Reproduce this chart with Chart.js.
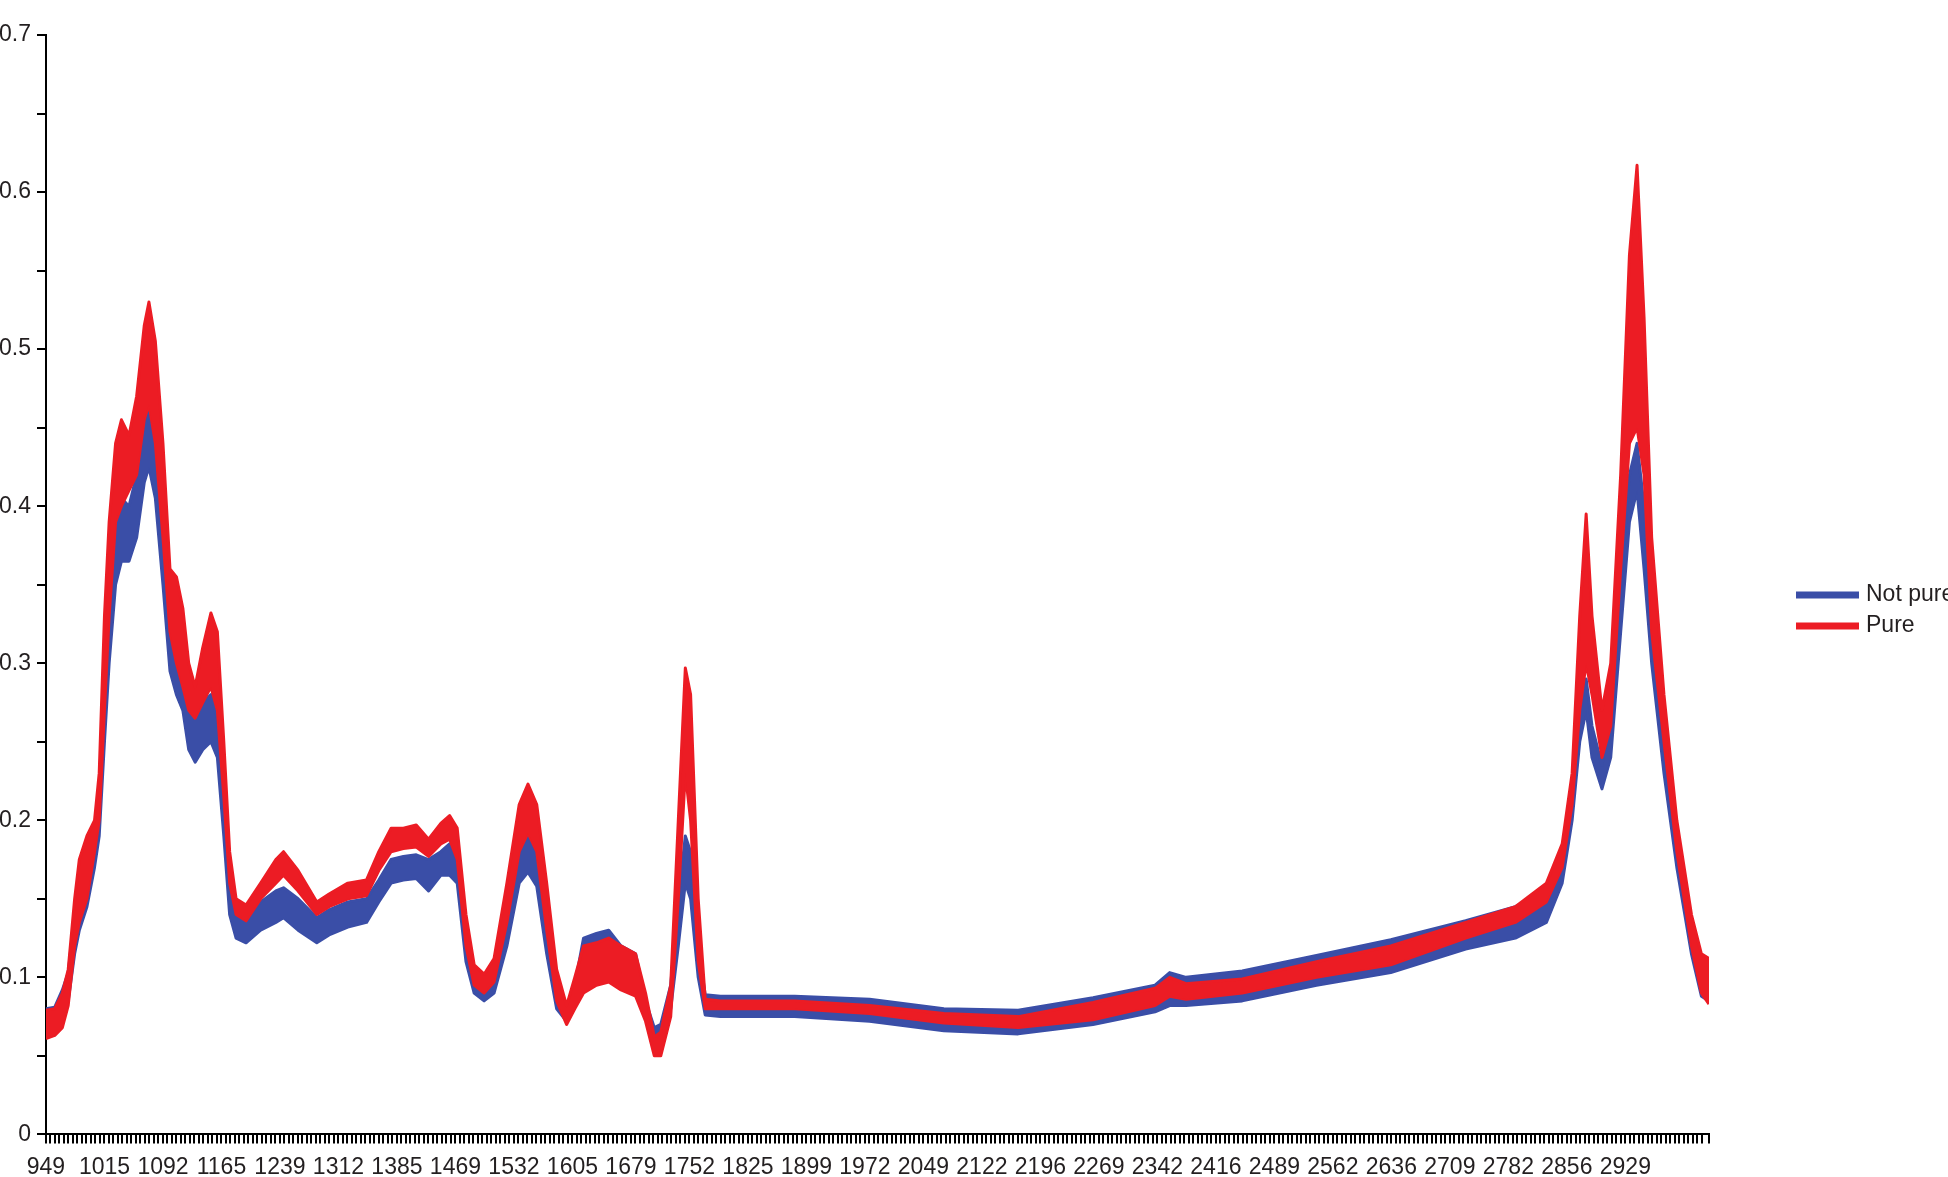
<!DOCTYPE html>
<html>
<head>
<meta charset="utf-8">
<title>Spectra - pure vs not pure</title>
<script src="https://cdn.jsdelivr.net/npm/chart.js@4.4.1/dist/chart.umd.min.js"></script>
<style>
  html, body { margin: 0; padding: 0; background: #fff; overflow: hidden; }
  #wrap { position: relative; width: 1948px; height: 1177px; }
  canvas { position: absolute; left: 0; top: 0; }
</style>
</head>
<body>
<div id="wrap"><canvas id="spectraChart" width="1948" height="1177"></canvas></div>
<script>
// category labels printed under the axis (one every 13 tick marks)
const tickLabels = ['949', '1015', '1092', '1165', '1239', '1312', '1385', '1469', '1532', '1605',
    '1679', '1752', '1825', '1899', '1972', '2049', '2122', '2196', '2269', '2342',
    '2416', '2489', '2562', '2636', '2709', '2782', '2856', '2929'];
const TICKS_PER_LABEL = 13;
const AXIS_END = 28.43; // axis runs a bit past the last label

// sample positions, in label steps from 949
const xPos = [0.00, 0.15, 0.28, 0.38, 0.49, 0.57, 0.70, 0.83, 0.91, 1.00,
    1.08, 1.19, 1.29, 1.42, 1.55, 1.68, 1.76, 1.87, 2.00, 2.12,
    2.23, 2.34, 2.44, 2.55, 2.68, 2.82, 2.93, 3.04, 3.14, 3.25,
    3.42, 3.67, 3.93, 4.06, 4.31, 4.63, 4.84, 5.16, 5.48, 5.69,
    5.90, 6.11, 6.33, 6.54, 6.75, 6.90, 7.03, 7.18, 7.32, 7.49,
    7.66, 7.88, 8.09, 8.24, 8.39, 8.56, 8.73, 8.90, 9.04, 9.19,
    9.41, 9.62, 9.83, 10.08, 10.25, 10.40, 10.51, 10.68, 10.81, 10.93,
    11.02, 11.15, 11.27, 11.53, 12.80, 14.08, 15.35, 16.62, 17.90, 18.96,
    19.21, 19.49, 20.45, 21.72, 22.99, 24.27, 25.12, 25.65, 25.92, 26.09,
    26.22, 26.33, 26.43, 26.60, 26.75, 26.92, 27.07, 27.20, 27.32, 27.45,
    27.66, 27.88, 28.13, 28.30, 28.43];

// upper / lower envelope of the "Pure" spectra
const pureHigh = [0.079, 0.080, 0.090, 0.105, 0.150, 0.175, 0.190, 0.200, 0.230, 0.330,
    0.390, 0.440, 0.455, 0.445, 0.470, 0.515, 0.530, 0.505, 0.440, 0.360,
    0.355, 0.335, 0.300, 0.285, 0.310, 0.332, 0.320, 0.250, 0.180, 0.150,
    0.146, 0.160, 0.175, 0.180, 0.168, 0.148, 0.153, 0.160, 0.162, 0.180,
    0.195, 0.195, 0.197, 0.188, 0.198, 0.203, 0.195, 0.140, 0.108, 0.102,
    0.112, 0.160, 0.210, 0.223, 0.210, 0.160, 0.105, 0.082, 0.100, 0.120,
    0.122, 0.125, 0.120, 0.115, 0.090, 0.062, 0.065, 0.095, 0.200, 0.297,
    0.280, 0.150, 0.086, 0.085, 0.085, 0.082, 0.077, 0.075, 0.084, 0.093,
    0.100, 0.096, 0.099, 0.110, 0.120, 0.135, 0.145, 0.160, 0.185, 0.230,
    0.330, 0.395, 0.330, 0.270, 0.300, 0.420, 0.560, 0.617, 0.520, 0.380,
    0.280, 0.200, 0.140, 0.115, 0.112];
const pureLow = [0.061, 0.063, 0.068, 0.082, 0.120, 0.135, 0.150, 0.180, 0.200, 0.270,
    0.330, 0.390, 0.400, 0.410, 0.420, 0.455, 0.465, 0.440, 0.380, 0.320,
    0.300, 0.285, 0.270, 0.265, 0.275, 0.285, 0.270, 0.215, 0.160, 0.140,
    0.136, 0.150, 0.160, 0.165, 0.155, 0.140, 0.145, 0.150, 0.152, 0.168,
    0.180, 0.182, 0.183, 0.177, 0.185, 0.188, 0.175, 0.120, 0.095, 0.090,
    0.097, 0.135, 0.180, 0.192, 0.180, 0.130, 0.085, 0.070, 0.080, 0.090,
    0.095, 0.097, 0.092, 0.088, 0.072, 0.050, 0.050, 0.075, 0.150, 0.230,
    0.200, 0.110, 0.080, 0.080, 0.080, 0.077, 0.071, 0.068, 0.073, 0.082,
    0.088, 0.086, 0.090, 0.100, 0.108, 0.125, 0.135, 0.148, 0.170, 0.210,
    0.270, 0.300, 0.280, 0.240, 0.260, 0.360, 0.440, 0.450, 0.420, 0.320,
    0.250, 0.180, 0.120, 0.090, 0.083];

// upper / lower envelope of the "Not pure" spectra
const notPureHigh = [0.080, 0.081, 0.092, 0.103, 0.140, 0.165, 0.182, 0.195, 0.220, 0.300,
    0.360, 0.395, 0.405, 0.400, 0.420, 0.455, 0.466, 0.445, 0.395, 0.335,
    0.320, 0.300, 0.280, 0.270, 0.275, 0.280, 0.265, 0.220, 0.165, 0.142,
    0.138, 0.148, 0.155, 0.157, 0.150, 0.138, 0.143, 0.148, 0.150, 0.162,
    0.175, 0.177, 0.178, 0.175, 0.180, 0.185, 0.175, 0.125, 0.098, 0.095,
    0.103, 0.140, 0.180, 0.190, 0.180, 0.135, 0.092, 0.078, 0.095, 0.125,
    0.128, 0.130, 0.120, 0.115, 0.085, 0.068, 0.070, 0.095, 0.150, 0.190,
    0.180, 0.120, 0.089, 0.088, 0.088, 0.086, 0.080, 0.079, 0.087, 0.095,
    0.103, 0.100, 0.104, 0.114, 0.124, 0.136, 0.145, 0.155, 0.175, 0.220,
    0.270, 0.290, 0.260, 0.235, 0.270, 0.350, 0.420, 0.440, 0.400, 0.330,
    0.250, 0.190, 0.130, 0.110, 0.108];
const notPureLow = [0.064, 0.066, 0.071, 0.085, 0.115, 0.130, 0.145, 0.170, 0.190, 0.250,
    0.300, 0.350, 0.365, 0.365, 0.380, 0.415, 0.425, 0.405, 0.350, 0.295,
    0.280, 0.270, 0.245, 0.237, 0.245, 0.250, 0.240, 0.190, 0.140, 0.125,
    0.122, 0.130, 0.135, 0.138, 0.130, 0.122, 0.127, 0.132, 0.135, 0.148,
    0.160, 0.162, 0.163, 0.155, 0.165, 0.165, 0.160, 0.110, 0.090, 0.085,
    0.090, 0.120, 0.160, 0.167, 0.158, 0.115, 0.080, 0.072, 0.085, 0.100,
    0.100, 0.098, 0.095, 0.090, 0.075, 0.058, 0.060, 0.080, 0.120, 0.160,
    0.150, 0.100, 0.076, 0.075, 0.075, 0.072, 0.066, 0.064, 0.070, 0.078,
    0.082, 0.082, 0.085, 0.095, 0.103, 0.118, 0.125, 0.135, 0.160, 0.200,
    0.250, 0.270, 0.240, 0.220, 0.240, 0.320, 0.390, 0.410, 0.360, 0.300,
    0.230, 0.170, 0.115, 0.088, 0.085];

const BLUE = '#3a4ea7';
const RED = '#ec1c24';
const TEXT = '#231f20';

Chart.defaults.font.family = '"Liberation Sans", Arial, sans-serif';

function toPoints(values) {
    return values.map((v, i) => ({ x: xPos[i], y: v }));
}

// legend with thick line samples, to the right of the plot
const sideLegend = {
    id: 'sideLegend',
    afterDraw(chart) {
        const ctx = chart.ctx;
        const items = [
            { label: 'Not pure', color: BLUE },
            { label: 'Pure', color: RED }
        ];
        ctx.save();
        ctx.font = '23px ' + Chart.defaults.font.family;
        ctx.textBaseline = 'middle';
        items.forEach((item, i) => {
            const y = 595 + i * 31;
            ctx.fillStyle = item.color;
            ctx.fillRect(1796, y - 3.5, 63, 7);
            ctx.fillStyle = TEXT;
            ctx.fillText(item.label, 1866, y);
        });
        ctx.restore();
    }
};

const ctx = document.getElementById('spectraChart').getContext('2d');

// red drawn last (on top): datasets are painted from the last one to the first
new Chart(ctx, {
    type: 'line',
    data: {
        datasets: [
            { label: 'Pure', data: toPoints(pureHigh), borderColor: RED, backgroundColor: RED, fill: '+1', borderWidth: 3 },
            { label: 'Pure', data: toPoints(pureLow), borderColor: RED, backgroundColor: RED, fill: false, borderWidth: 3 },
            { label: 'Not pure', data: toPoints(notPureHigh), borderColor: BLUE, backgroundColor: BLUE, fill: '+1', borderWidth: 3 },
            { label: 'Not pure', data: toPoints(notPureLow), borderColor: BLUE, backgroundColor: BLUE, fill: false, borderWidth: 3 }
        ]
    },
    options: {
        responsive: false,
        animation: false,
        devicePixelRatio: 1,
        elements: {
            point: { radius: 0 },
            line: { tension: 0, borderJoinStyle: 'round' }
        },
        layout: {
            padding: { top: 35, right: 239, bottom: -14, left: -7 }
        },
        plugins: {
            legend: { display: false },
            tooltip: { enabled: false }
        },
        scales: {
            x: {
                type: 'linear',
                min: 0,
                max: AXIS_END,
                border: { display: true, color: '#000', width: 2 },
                grid: { drawOnChartArea: false, drawTicks: true, tickLength: 9, color: '#000', lineWidth: 2 },
                ticks: {
                    stepSize: 1 / TICKS_PER_LABEL,
                    autoSkip: false,
                    maxRotation: 0,
                    minRotation: 0,
                    padding: 10,
                    color: TEXT,
                    font: { size: 23 },
                    callback: (value) => {
                        const k = Math.round(value);
                        return Math.abs(value - k) < 1e-6 && k < tickLabels.length ? tickLabels[k] : '';
                    }
                }
            },
            y: {
                min: 0,
                max: 0.7,
                border: { display: true, color: '#000', width: 2 },
                grid: { drawOnChartArea: false, drawTicks: true, tickLength: 9, color: '#000', lineWidth: 2 },
                ticks: {
                    stepSize: 0.05,
                    autoSkip: false,
                    padding: 6,
                    color: TEXT,
                    font: { size: 23 },
                    callback: (value) => {
                        const t = Math.round(value * 20);
                        return t % 2 === 0 ? String(t / 20) : '';
                    }
                }
            }
        }
    },
    plugins: [sideLegend]
});
</script>
</body>
</html>
